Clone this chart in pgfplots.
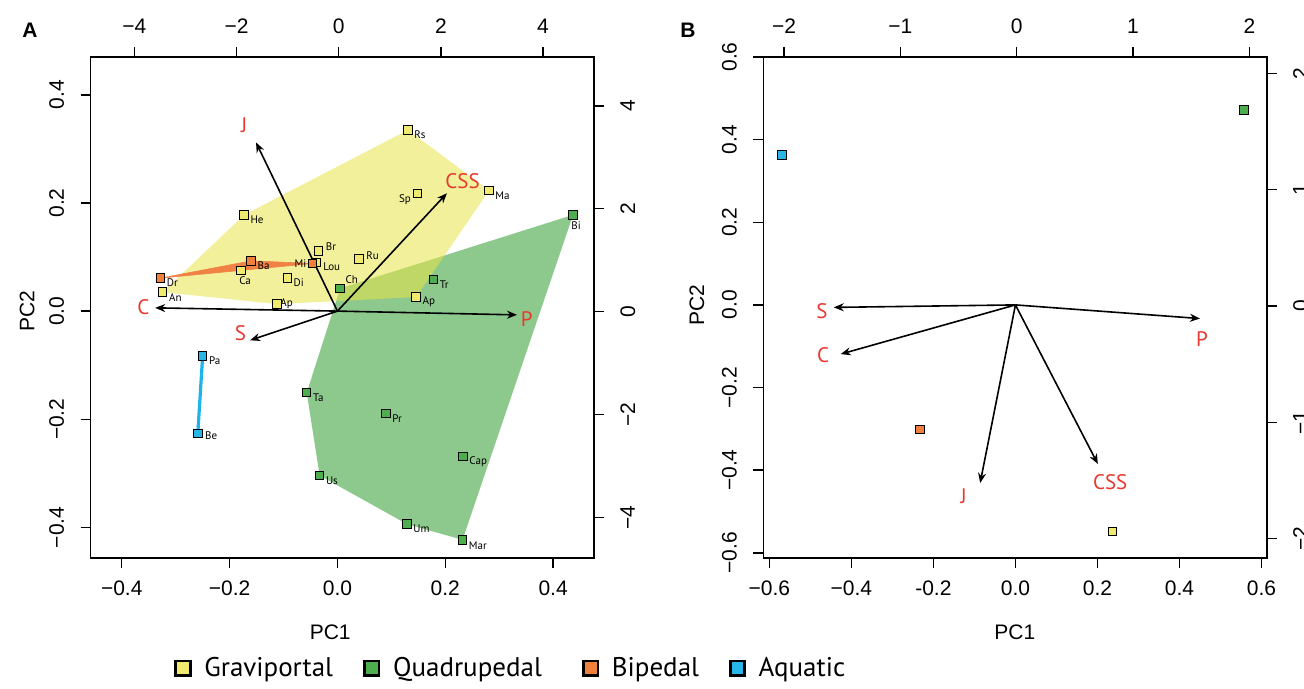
\documentclass[border=0pt]{standalone}
\usepackage{fontspec}
\setmainfont{Liberation Sans}
\newfontfamily\myr{PT Sans}
\usepackage{pgfplots}
\pgfplotsset{compat=1.18}
\usetikzlibrary{arrows.meta}
\definecolor{hullY}{RGB}{231,228,72}
\definecolor{hullG}{RGB}{141,201,141}
\definecolor{markY}{RGB}{240,234,110}
\definecolor{markG}{RGB}{78,174,78}
\definecolor{markO}{RGB}{240,128,60}
\definecolor{markC}{RGB}{40,182,232}
\definecolor{bandO}{RGB}{240,130,70}
\definecolor{lineC}{RGB}{30,180,235}
\definecolor{redlab}{RGB}{232,56,48}
\pgfplotsset{
  base/.style={scale only axis, width=251.8pt, height=250.6pt, anchor=south west, clip=false,
    axis line style={black,line width=0.7pt}, every tick/.style={black,line width=0.7pt},
    major tick length=5pt, tick align=outside,
    tick label style={font=\fontsize{10.5}{12}\selectfont, inner sep=0pt},
    label style={font=\fontsize{10.5}{12}\selectfont}},
  main/.style={base, xtick pos=lower, ytick pos=left, xticklabel pos=lower, yticklabel pos=left,
    xticklabel shift=6pt, yticklabel shift=8pt,
    yticklabel style={rotate=90, anchor=south}},
  second/.style={base, xtick pos=upper, ytick pos=right, xticklabel pos=upper, yticklabel pos=right,
    xticklabel shift=6.5pt, yticklabel shift=8pt,
    yticklabel style={rotate=90, anchor=north}, axis line style={draw=none}},
  gmark/.style={only marks, mark=square*, mark size=2.1pt, mark options={draw=black, line width=0.5pt, fill=#1}},
  arr/.style={black, line width=0.8pt, -{Stealth[length=5pt,width=4pt]}},
}
\tikzset{lab/.style={font=\myr\fontsize{5.5}{6}\selectfont, inner sep=0pt},
  rl/.style={font=\myr\fontsize{10.5}{12}\selectfont, text=redlab, inner sep=0pt}}
\begin{document}
\begin{tikzpicture}
\useasboundingbox (0,0) rectangle (652pt,344.5pt);
\node[font=\bfseries\fontsize{10.5}{12}\selectfont] at (15pt,329.5pt) {A};
\node[font=\bfseries\fontsize{10.5}{12}\selectfont] at (344pt,329.5pt) {B};
% ---------------- Panel A ----------------
\begin{axis}[main, at={(45.25pt,65.4pt)}, xmin=-0.458, xmax=0.476, ymin=-0.457, ymax=0.470,
  xtick={-0.4,-0.2,0,0.2,0.4}, xticklabels={−0.4,−0.2,0.0,0.2,0.4},
  ytick={-0.4,-0.2,0,0.2,0.4}, yticklabels={−0.4,−0.2,0.0,0.2,0.4},
  xlabel={PC1}, ylabel={PC2},
  xlabel style={at={(axis description cs:0.476,-0.1477)}, anchor=center},
  ylabel style={at={(axis description cs:-0.126,0.493)}, anchor=center},
  legend style={at={(axis description cs:0.166,-0.2196)}, anchor=west, draw=none, fill=none,
    inner sep=0pt, font=\myr\fontsize{13.5}{15}\selectfont, nodes={inner sep=0pt},
    /tikz/every odd column/.append style={column sep=6.3pt},
    /tikz/every even column/.append style={column sep=0pt}},
  legend columns=4, legend cell align=left]
\addlegendimage{legend image code/.code={\draw[black,line width=1.4pt,fill=markY] (0pt,-3.6pt) rectangle (7.2pt,3.6pt);}}
\addlegendentry{\makebox[79.5pt][l]{Graviportal}}
\addlegendimage{legend image code/.code={\draw[black,line width=1.4pt,fill=markG] (0pt,-3.6pt) rectangle (7.2pt,3.6pt);}}
\addlegendentry{\makebox[94.5pt][l]{Quadrupedal}}
\addlegendimage{legend image code/.code={\draw[black,line width=1.4pt,fill=markO] (0pt,-3.6pt) rectangle (7.2pt,3.6pt);}}
\addlegendentry{\makebox[58.5pt][l]{Bipedal}}
\addlegendimage{legend image code/.code={\draw[black,line width=1.4pt,fill=markC] (0pt,-3.6pt) rectangle (7.2pt,3.6pt);}}
\addlegendentry{Aquatic}
% hulls
\addplot[draw=none, fill=hullG] coordinates {(0.005,0.042) (0.437,0.178) (0.232,-0.423) (0.129,-0.394) (-0.033,-0.304) (-0.057,-0.151)} -- cycle;
\addplot[draw=none, fill=hullY, fill opacity=0.55] coordinates {(-0.324,0.035) (-0.173,0.178) (0.131,0.335) (0.281,0.223) (0.146,0.026) (-0.112,0.013)} -- cycle;
\addplot[draw=bandO, line width=0.3pt, fill=bandO] coordinates {(-0.328,0.061) (-0.160,0.093) (-0.046,0.088)} -- cycle;
\addplot[lineC, line width=1.6pt] coordinates {(-0.250,-0.083) (-0.259,-0.226)};
% arrows
\addplot[arr] coordinates {(0,0) (-0.151,0.312)};
\addplot[arr] coordinates {(0,0) (0.203,0.218)};
\addplot[arr] coordinates {(0,0) (-0.338,0.006)};
\addplot[arr] coordinates {(0,0) (-0.162,-0.054)};
\addplot[arr] coordinates {(0,0) (0.333,-0.007)};
% points
\addplot[gmark=markY] coordinates {(-0.173,0.178) (0.131,0.335) (0.148,0.218) (0.281,0.223) (-0.035,0.111) (0.040,0.096) (-0.040,0.090) (-0.179,0.075) (-0.093,0.061) (-0.324,0.035) (-0.112,0.013) (0.146,0.026)};
\addplot[gmark=markG] coordinates {(0.437,0.178) (0.178,0.059) (0.005,0.042) (-0.057,-0.151) (0.090,-0.189) (0.233,-0.269) (-0.033,-0.304) (0.129,-0.394) (0.232,-0.423)};
\addplot[gmark=markO] coordinates {(-0.328,0.061) (-0.160,0.093) (-0.046,0.088)};
\addplot[gmark=markC] coordinates {(-0.250,-0.083) (-0.259,-0.226)};
% point labels
\node[lab, anchor=west, xshift=3pt, yshift=-2.5pt] at (axis cs:-0.173,0.178) {He};
\node[lab, anchor=west, xshift=3pt, yshift=-2.5pt] at (axis cs:0.131,0.335) {Rs};
\node[lab, anchor=east, xshift=-3pt, yshift=-3pt] at (axis cs:0.148,0.218) {Sp};
\node[lab, anchor=west, xshift=3pt, yshift=-2.5pt] at (axis cs:0.281,0.223) {Ma};
\node[lab, anchor=west, xshift=3.5pt, yshift=2pt] at (axis cs:-0.035,0.111) {Br};
\node[lab, anchor=west, xshift=3.5pt, yshift=2pt] at (axis cs:0.040,0.096) {Ru};
\node[lab, anchor=west, xshift=3.5pt, yshift=-2pt] at (axis cs:-0.040,0.090) {Lou};
\node[lab, anchor=north west, xshift=-1pt, yshift=-3pt] at (axis cs:-0.179,0.075) {Ca};
\node[lab, anchor=west, xshift=3pt, yshift=-2.5pt] at (axis cs:-0.093,0.061) {Di};
\node[lab, anchor=west, xshift=3pt, yshift=-2.5pt] at (axis cs:-0.324,0.035) {An};
\node[lab, anchor=west, xshift=1.5pt, yshift=0pt] at (axis cs:-0.112,0.013) {Ap};
\node[lab, anchor=west, xshift=3pt, yshift=-2.5pt] at (axis cs:0.146,0.026) {Ap};
\node[lab, anchor=north, xshift=1.5pt, yshift=-3pt] at (axis cs:0.437,0.178) {Bi};
\node[lab, anchor=west, xshift=3pt, yshift=-2.5pt] at (axis cs:0.178,0.059) {Tr};
\node[lab, anchor=south west, xshift=2.5pt, yshift=2pt] at (axis cs:0.005,0.042) {Ch};
\node[lab, anchor=west, xshift=3pt, yshift=-2.5pt] at (axis cs:-0.057,-0.151) {Ta};
\node[lab, anchor=west, xshift=3pt, yshift=-2.5pt] at (axis cs:0.090,-0.189) {Pr};
\node[lab, anchor=west, xshift=3pt, yshift=-2.5pt] at (axis cs:0.233,-0.269) {Cap};
\node[lab, anchor=west, xshift=3pt, yshift=-2.5pt] at (axis cs:-0.033,-0.304) {Us};
\node[lab, anchor=west, xshift=3pt, yshift=-2.5pt] at (axis cs:0.129,-0.394) {Um};
\node[lab, anchor=west, xshift=3pt, yshift=-3pt] at (axis cs:0.232,-0.423) {Mar};
\node[lab, anchor=west, xshift=3pt, yshift=-2.5pt] at (axis cs:-0.328,0.061) {Dr};
\node[lab, anchor=west, xshift=3pt, yshift=-2.5pt] at (axis cs:-0.160,0.093) {Ba};
\node[lab, anchor=east, xshift=-3pt, yshift=0pt] at (axis cs:-0.046,0.088) {Mi};
\node[lab, anchor=west, xshift=3pt, yshift=-2.5pt] at (axis cs:-0.250,-0.083) {Pa};
\node[lab, anchor=west, xshift=3.5pt, yshift=-1pt] at (axis cs:-0.259,-0.226) {Be};
% arrow labels
\node[rl] at (axis cs:-0.173,0.344) {J};
\node[rl] at (axis cs:0.232,0.241) {CSS};
\node[rl] at (axis cs:-0.360,0.008) {C};
\node[rl] at (axis cs:-0.180,-0.041) {S};
\node[rl] at (axis cs:0.351,-0.014) {P};
\end{axis}
\begin{axis}[second, at={(45.25pt,65.4pt)}, xmin=-4.86, xmax=5.0, ymin=-4.79, ymax=4.95,
  xtick={-4,-2,0,2,4}, xticklabels={−4,−2,0,2,4},
  ytick={-4,-2,0,2,4}, yticklabels={−4,−2,0,2,4}]
\addplot[draw=none] coordinates {(0,0)};
\end{axis}
% ---------------- Panel B ----------------
\begin{axis}[main, at={(381.6pt,65.4pt)}, xmin=-0.615, xmax=0.613, ymin=-0.613, ymax=0.600,
  xtick={-0.6,-0.4,-0.2,0,0.2,0.4,0.6}, xticklabels={−0.6,−0.4,-0.2,0.0,0.2,0.4,0.6},
  ytick={-0.6,-0.4,-0.2,0,0.2,0.4,0.6}, yticklabels={−0.6,−0.4,−0.2,0.0,0.2,0.4,0.6},
  xlabel={PC1}, ylabel={PC2},
  xlabel style={at={(axis description cs:0.4997,-0.1477)}, anchor=center},
  ylabel style={at={(axis description cs:-0.1316,0.505)}, anchor=center}]
\addplot[arr] coordinates {(0,0) (-0.443,-0.006)};
\addplot[arr] coordinates {(0,0) (-0.426,-0.119)};
\addplot[arr] coordinates {(0,0) (-0.086,-0.431)};
\addplot[arr] coordinates {(0,0) (0.201,-0.385)};
\addplot[arr] coordinates {(0,0) (0.450,-0.033)};
\addplot[gmark=markC] coordinates {(-0.569,0.363)};
\addplot[gmark=markG] coordinates {(0.557,0.472)};
\addplot[gmark=markO] coordinates {(-0.233,-0.302)};
\addplot[gmark=markY] coordinates {(0.237,-0.549)};
\node[rl] at (axis cs:-0.472,-0.016) {S};
\node[rl] at (axis cs:-0.469,-0.121) {C};
\node[rl] at (axis cs:-0.126,-0.463) {J};
\node[rl] at (axis cs:0.231,-0.428) {CSS};
\node[rl] at (axis cs:0.455,-0.083) {P};
\end{axis}
\begin{axis}[second, at={(381.6pt,65.4pt)}, xmin=-2.18, xmax=2.15, ymin=-2.167, ymax=2.14,
  xtick={-2,-1,0,1,2}, xticklabels={−2,−1,0,1,2},
  ytick={-2,-1,0,1,2}, yticklabels={−2,−1,0,1,2}]
\addplot[draw=none] coordinates {(0,0)};
\end{axis}
\end{tikzpicture}
\end{document}
